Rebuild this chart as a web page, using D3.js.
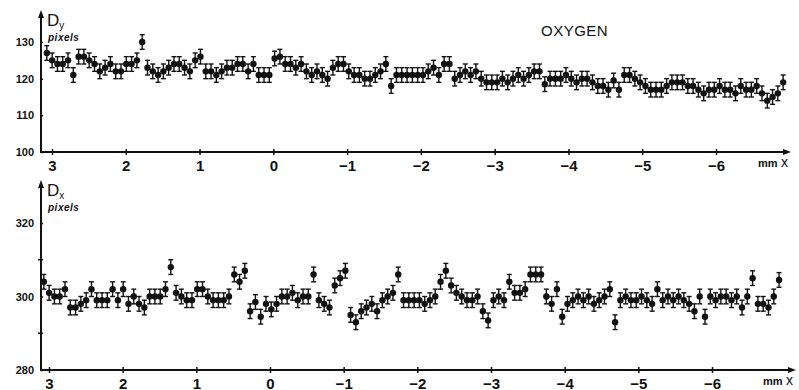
<!DOCTYPE html>
<html>
<head>
<meta charset="utf-8">
<script src="https://cdn.jsdelivr.net/npm/d3@7"></script>
<style>
  body { margin: 0; background: #fff; }
  svg { display: block; }
  text { font-family: "Liberation Sans", Arial, sans-serif; fill: #111; }
  .tick text { font-weight: bold; }
</style>
</head>
<body>
<div id="chart"></div>
<script>
// x position along the sample, mm (same sampling grid for both panels)
const xStart = 3.07;
const xStep = -0.0718;

// D_y in pixels, read left to right
const dyValues = [
  127, 125, 124, 124, 125, 121, 126, 126, 125, 124,
  122, 123, 124, 122, 122, 124, 124, 125, 130, 123,
  122, 121, 122, 123, 124, 124, 123, 122, 125, 126,
  122, 122, 121, 122, 123, 123, 124, 124, 122, 124,
  121, 121, 121, 125.5, 126, 124, 124, 123, 124, 122,
  121, 122, 121, 120, 123, 124, 124, 122, 121, 121,
  120, 120, 121, 122, 124, 118, 121, 121, 121, 121,
  121, 121, 122, 123, 121, 124, 124, 120, 121, 122,
  121, 122, 120, 119, 119, 119, 120, 119, 120, 121,
  120, 121, 122, 122, 118.5, 120, 120, 120, 121, 120,
  119, 120, 120, 119, 118, 118, 117, 119.5, 117, 121,
  121, 120, 119, 118, 117, 117, 117, 118, 119, 119,
  119, 118, 118, 117, 116, 117, 117, 118, 117, 117,
  116, 118, 117, 117, 118, 116, 114, 115, 116, 119
];

// D_x in pixels, read left to right
const dxValues = [
  304, 301, 300, 300, 302, 297, 297, 298, 299, 302,
  299, 299, 299, 302, 299, 302, 298, 300, 298, 297,
  300, 300, 300, 302, 308, 301, 300, 299, 299, 302,
  302, 300, 299, 299, 299, 300, 306, 304, 307, 296,
  298.5, 294.5, 298, 296.5, 298, 300, 300, 301, 299, 300,
  300, 306, 299, 298, 297, 303, 305, 307, 295, 293,
  296, 297, 298, 296, 299, 300, 301, 306, 299, 299,
  299, 299, 298, 299, 300, 304, 307, 303, 301, 300,
  299, 299, 300, 296, 293.5, 299, 300, 299, 304, 301,
  301, 302, 306, 306, 306, 300, 298, 302, 294.5, 298,
  299, 300, 299, 300, 298, 299, 300, 302, 293, 299,
  300, 299, 299, 300, 299, 298, 302, 299, 300, 299,
  300, 299, 298, 296, 300, 294.5, 300, 299, 300, 300,
  299, 300, 297, 300, 305, 298, 298, 297, 300, 304.5
];

const errBar = 2;           // +/- pixels
const xTickValues = [3, 2, 1, 0, -1, -2, -3, -4, -5, -6];
const dyTickValues = [100, 110, 120, 130];
const dxTickValues = [280, 300, 320];
const dxMinorTicks = [290, 310];

const W = 799, H = 390;
const svg = d3.select("#chart").append("svg")
  .attr("width", W).attr("height", H);

const ink = "#111";
const fmtX = d => d < 0 ? "\u2212" + (-d) : String(d);

function panel(cfg) {
  const x = d3.scaleLinear().domain([3, -6]).range(cfg.xr);
  const y = d3.scaleLinear().domain(cfg.yDomain).range(cfg.yr);
  const g = svg.append("g");
  const x0 = cfg.axisX, y0 = y(cfg.yDomain[0]);

  // axis lines with arrows
  g.append("line").attr("x1", x0).attr("x2", x0).attr("y1", y0 + 1).attr("y2", cfg.yTop + 4)
    .attr("stroke", ink).attr("stroke-width", 2);
  g.append("path").attr("d", `M${x0 - 3},${cfg.yTop + 8} L${x0},${cfg.yTop} L${x0 + 3},${cfg.yTop + 8} Z`)
    .attr("fill", ink);
  g.append("line").attr("x1", x0).attr("x2", cfg.xEnd - 4).attr("y1", y0).attr("y2", y0)
    .attr("stroke", ink).attr("stroke-width", 2);
  g.append("path").attr("d", `M${cfg.xEnd - 8},${y0 - 3} L${cfg.xEnd},${y0} L${cfg.xEnd - 8},${y0 + 3} Z`)
    .attr("fill", ink);

  // y axis ticks + labels
  const ya = g.append("g").attr("transform", `translate(${x0},0)`)
    .call(d3.axisLeft(y).tickValues(cfg.yTicks).tickSize(4).tickPadding(3));
  ya.select(".domain").remove();
  ya.selectAll(".tick line").attr("stroke", ink).attr("stroke-width", 1.5).attr("x2", 2);
  ya.selectAll(".tick text").attr("font-size", 11).attr("fill", ink);
  if (cfg.yMinor) {
    g.selectAll(".minor").data(cfg.yMinor).join("line")
      .attr("x1", x0 - 3).attr("x2", x0 + 2).attr("y1", d => y(d)).attr("y2", d => y(d))
      .attr("stroke", ink).attr("stroke-width", 1.5);
  }

  // x axis ticks + labels
  const xa = g.append("g").attr("transform", `translate(0,${y0})`)
    .call(d3.axisBottom(x).tickValues(xTickValues).tickFormat(fmtX).tickSize(3).tickPadding(5));
  xa.select(".domain").remove();
  xa.selectAll(".tick line").attr("stroke", ink).attr("stroke-width", 1.5).attr("y1", -3);
  xa.selectAll(".tick text").attr("font-size", 15).attr("font-weight", "normal").attr("fill", ink);

  g.append("text").attr("x", cfg.xEnd - 33).attr("y", y0 + 15)
    .attr("font-size", 11).attr("font-weight", "bold").text("mm");
  g.append("text").attr("x", cfg.xEnd - 10).attr("y", y0 + 15)
    .attr("font-size", 14).text("x");

  // axis name
  const lab = g.append("text").attr("x", x0 + 6).attr("y", cfg.yTop + 16).attr("font-size", 17);
  lab.append("tspan").text("D");
  lab.append("tspan").attr("font-size", 10).attr("dy", 3).text(cfg.sub);
  g.append("text").attr("x", x0 + 7).attr("y", cfg.yTop + 31)
    .attr("font-size", 10).attr("font-weight", "bold").attr("font-style", "italic")
    .attr("letter-spacing", 0.5).text("pixels");

  // data: points with error bars
  const pts = cfg.values.map((v, i) => ({ x: xStart + i * xStep, v }));
  const bars = g.append("g").attr("stroke", ink).attr("stroke-width", 1.4);
  bars.selectAll(".eb").data(pts).join("line")
    .attr("x1", d => x(d.x)).attr("x2", d => x(d.x))
    .attr("y1", d => y(d.v - errBar)).attr("y2", d => y(d.v + errBar));
  bars.selectAll(".cap-top").data(pts).join("line")
    .attr("x1", d => x(d.x) - 2.5).attr("x2", d => x(d.x) + 2.5)
    .attr("y1", d => y(d.v + errBar)).attr("y2", d => y(d.v + errBar));
  bars.selectAll(".cap-bot").data(pts).join("line")
    .attr("x1", d => x(d.x) - 2.5).attr("x2", d => x(d.x) + 2.5)
    .attr("y1", d => y(d.v - errBar)).attr("y2", d => y(d.v - errBar));
  g.append("g").selectAll("circle").data(pts).join("circle")
    .attr("cx", d => x(d.x)).attr("cy", d => y(d.v)).attr("r", 3.2).attr("fill", ink);
}

panel({
  values: dyValues, xr: [52, 716], yDomain: [100, 130], yr: [152, 42],
  yTicks: dyTickValues, axisX: 41, yTop: 10, xEnd: 791, sub: "y"
});
panel({
  values: dxValues, xr: [49, 712], yDomain: [280, 320], yr: [370, 223],
  yTicks: dxTickValues, yMinor: dxMinorTicks, axisX: 41, yTop: 180, xEnd: 796, sub: "x"
});

svg.append("text").attr("x", 541).attr("y", 36)
  .attr("font-size", 15).attr("letter-spacing", 0.5).text("OXYGEN");
</script>
</body>
</html>
